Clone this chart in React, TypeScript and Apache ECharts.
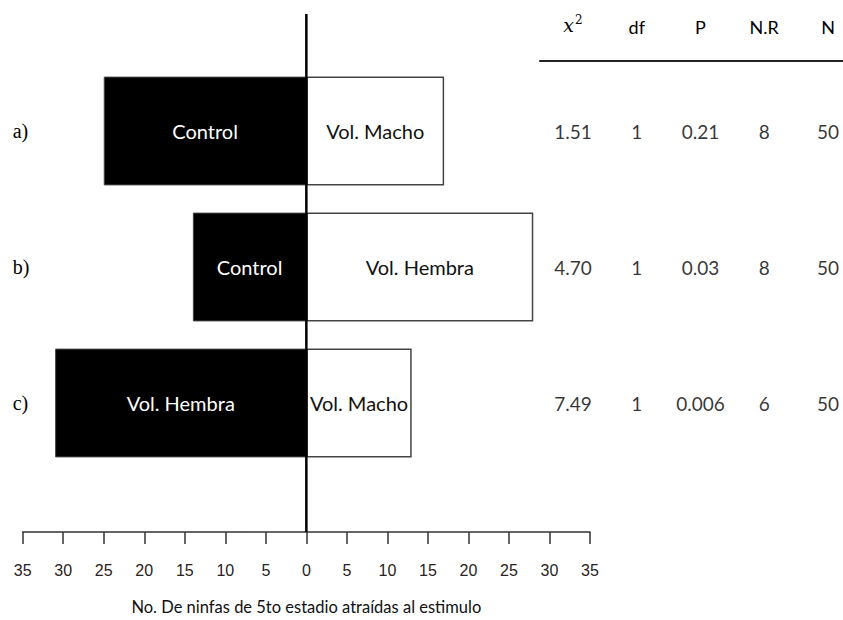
import React, { useEffect, useRef } from "react";
import * as echarts from "echarts";

const rowLabels = ["a)", "b)", "c)"];
const leftCounts = [25, 14, 31];
const rightCounts = [17, 28, 13];
const leftNames = ["Control", "Control", "Vol. Hembra"];
const rightNames = ["Vol. Macho", "Vol. Hembra", "Vol. Macho"];

const tableHeaders = ["x2", "df", "P", "N.R", "N"];
const chiSq = ["1.51", "4.70", "7.49"];
const dfVals = ["1", "1", "1"];
const pVals = ["0.21", "0.03", "0.006"];
const nrVals = ["8", "8", "6"];
const nVals = ["50", "50", "50"];

const xMin = -35;
const xMax = 35;
const xInterval = 5;
const axisTitle = "No. De ninfas de 5to estadio atraídas al estimulo";

const SANS = "Lato, 'Open Sans', sans-serif";

export default function App() {
  const ref = useRef<HTMLDivElement>(null);
  useEffect(() => {
    if (!ref.current) return;
    const chart = echarts.init(ref.current, undefined, { renderer: "svg" });

    const tableCols = [chiSq, dfVals, pVals, nrVals, nVals];
    const tableData: any[] = [];
    rowLabels.forEach((_, r) => {
      tableCols.forEach((col, c) => {
        tableData.push({ value: [c, r], text: col[r] });
      });
    });

    const gridLeft = 22.7;
    const gridWidth = 567.3;

    chart.setOption({
      animation: false,
      backgroundColor: "#fff",
      grid: [
        { left: gridLeft, width: gridWidth, top: 63, height: 408 },
        { left: gridLeft, width: gridWidth, top: 14, height: 526 },
        { left: 573, width: 255, top: 63, height: 408 },
        { left: 540, right: 0, top: 61, height: 1 },
      ],
      xAxis: [
        { gridIndex: 0, type: "value", min: xMin, max: xMax, interval: xInterval, show: false },
        {
          gridIndex: 1,
          type: "value",
          min: xMin,
          max: xMax,
          interval: xInterval,
          position: "bottom",
          splitLine: { show: false },
          axisLine: { show: true, lineStyle: { color: "#333", width: 1.5 } },
          axisTick: { show: true, length: 12, lineStyle: { color: "#333", width: 1.5 } },
          axisLabel: {
            margin: 30,
            color: "#2a2222",
            fontSize: 16,
            fontFamily: "'Liberation Sans', Arial, sans-serif",
            formatter: (v: number) => String(Math.abs(v)),
          },
          name: axisTitle,
          nameLocation: "middle",
          nameGap: 66,
          nameTextStyle: { color: "#111", fontSize: 16.5, fontFamily: SANS },
        },
        {
          gridIndex: 2,
          type: "category",
          data: tableHeaders,
          boundaryGap: false,
          position: "top",
          offset: 2,
          axisLine: { show: false },
          axisTick: { show: false },
          axisLabel: {
            interval: 0,
            margin: 25,
            color: "#000",
            fontSize: 18,
            fontFamily: SANS,
            formatter: (v: string) => (v === "x2" ? "{m|x}{s|2}" : v),
            rich: {
              m: { fontStyle: "italic", fontFamily: "'DejaVu Serif', serif", fontSize: 19, color: "#000" },
              s: { fontFamily: "'DejaVu Serif', serif", fontSize: 12, color: "#000", padding: [0, 0, 10, 1] },
            },
          },
        },
        {
          gridIndex: 3,
          type: "value",
          min: 0,
          max: 1,
          position: "top",
          axisLine: { show: true, onZero: false, lineStyle: { color: "#222", width: 2 } },
          axisTick: { show: false },
          axisLabel: { show: false },
          splitLine: { show: false },
        },
      ],
      yAxis: [
        {
          gridIndex: 0,
          type: "category",
          data: rowLabels,
          inverse: true,
          axisLine: { show: false },
          axisTick: { show: false },
          splitLine: { show: false },
          axisLabel: {
            align: "left",
            margin: 10,
            color: "#000",
            fontSize: 20,
            fontFamily: "'Liberation Serif', 'Times New Roman', serif",
          },
        },
        { gridIndex: 1, type: "value", min: 0, max: 1, show: false },
        {
          gridIndex: 2,
          type: "category",
          data: rowLabels,
          inverse: true,
          show: false,
        },
        { gridIndex: 3, type: "value", min: 0, max: 1, show: false },
      ],
      series: [
        {
          type: "bar",
          xAxisIndex: 0,
          yAxisIndex: 0,
          stack: "pair",
          barCategoryGap: "20%",
          z: 2,
          data: leftCounts.map((v) => -v),
          itemStyle: { color: "#000", borderColor: "#444", borderWidth: 1 },
          label: {
            show: true,
            position: "inside",
            color: "#fff",
            fontSize: 20,
            fontFamily: SANS,
            formatter: (p: any) => leftNames[p.dataIndex],
          },
        },
        {
          type: "bar",
          xAxisIndex: 0,
          yAxisIndex: 0,
          stack: "pair",
          barCategoryGap: "20%",
          z: 2,
          data: rightCounts,
          itemStyle: { color: "#fff", borderColor: "#444", borderWidth: 1.5 },
          label: {
            show: true,
            position: "inside",
            color: "#111",
            fontSize: 20,
            fontFamily: SANS,
            formatter: (p: any) => rightNames[p.dataIndex],
          },
        },
        {
          type: "line",
          xAxisIndex: 1,
          yAxisIndex: 1,
          z: 5,
          symbol: "none",
          data: [
            [0, 0],
            [0, 1],
          ],
          lineStyle: { color: "#000", width: 2.5 },
        },
        {
          type: "scatter",
          xAxisIndex: 2,
          yAxisIndex: 2,
          symbolSize: 2,
          itemStyle: { color: "rgba(0,0,0,0)" },
          emphasis: { disabled: true },
          data: tableData,
          label: {
            show: true,
            position: "inside",
            color: "#000",
            fontSize: 19,
            fontFamily: SANS,
            formatter: (p: any) => p.data.text,
          },
        },
      ],
    });
    return () => chart.dispose();
  }, []);
  return (
    <div
      ref={ref}
      style={{ position: "fixed", left: 0, top: 0, width: 843, height: 620, background: "#fff" }}
    />
  );
}
